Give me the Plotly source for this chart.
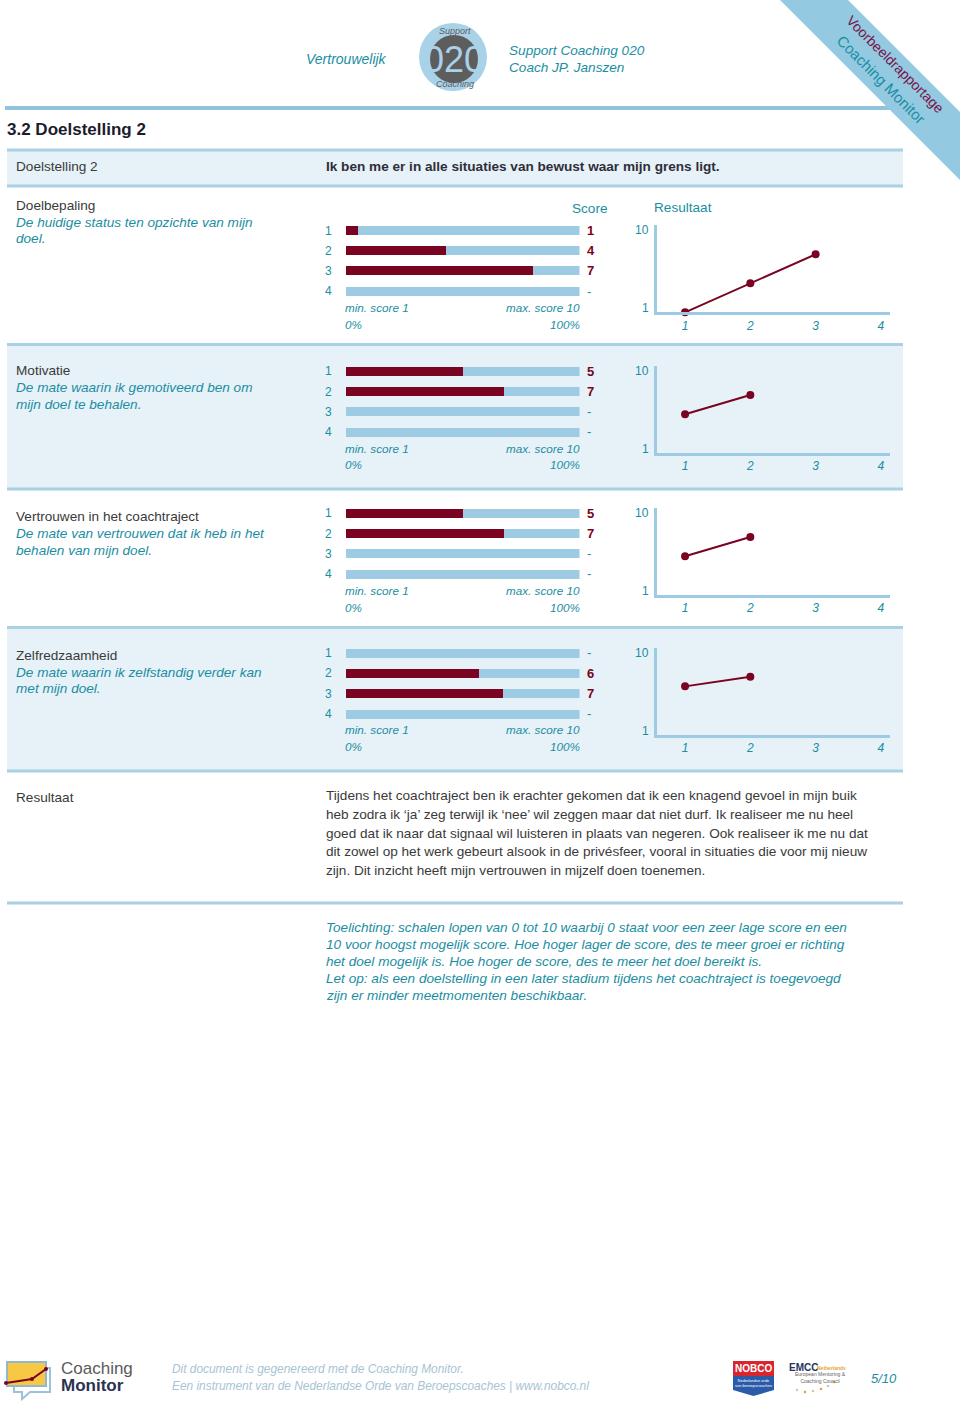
import plotly.graph_objects as go

# ------------------------------------------------------------------ data
metingen = [1, 2, 3, 4]                       # meetmomenten (rijen / x-as)
schaal_vol = [1.0, 1.0, 1.0, 1.0]             # 100% van de schaal
score_ticks = [1, 10]

onderdelen = ["Doelbepaling", "Motivatie", "Vertrouwen in het coachtraject", "Zelfredzaamheid"]
omschrijving_1 = ["De huidige status ten opzichte van mijn",
                  "De mate waarin ik gemotiveerd ben om",
                  "De mate van vertrouwen dat ik heb in het",
                  "De mate waarin ik zelfstandig verder kan"]
omschrijving_2 = ["doel.", "mijn doel te behalen.", "behalen van mijn doel.", "met mijn doel."]

scores_doelbepaling = [1, 4, 7, None]
scores_motivatie = [5, 7, None, None]
scores_vertrouwen = [5, 7, None, None]
scores_zelfredzaamheid = [None, 6, 7, None]

vulling_doelbepaling = [0.053, 0.429, 0.80, None]
vulling_motivatie = [0.50, 0.676, None, None]
vulling_vertrouwen = [0.50, 0.676, None, None]
vulling_zelfredzaamheid = [None, 0.571, 0.671, None]

alle_scores = [scores_doelbepaling, scores_motivatie, scores_vertrouwen, scores_zelfredzaamheid]
alle_vulling = [vulling_doelbepaling, vulling_motivatie, vulling_vertrouwen, vulling_zelfredzaamheid]

doelstelling = "Ik ben me er in alle situaties van bewust waar mijn grens ligt."
resultaat_tekst = [
    "Tijdens het coachtraject ben ik erachter gekomen dat ik een knagend gevoel in mijn buik",
    "heb zodra ik \u2018ja\u2019 zeg terwijl ik \u2018nee\u2019 wil zeggen maar dat niet durf. Ik realiseer me nu heel",
    "goed dat ik naar dat signaal wil luisteren in plaats van negeren. Ook realiseer ik me nu dat",
    "dit zowel op het werk gebeurt alsook in de priv\u00e9sfeer, vooral in situaties die voor mij nieuw",
    "zijn. Dit inzicht heeft mijn vertrouwen in mijzelf doen toenemen.",
]
toelichting = [
    "Toelichting: schalen lopen van 0 tot 10 waarbij 0 staat voor een zeer lage score en een",
    "10 voor hoogst mogelijk score. Hoe hoger lager de score, des te meer groei er richting",
    "het doel mogelijk is. Hoe hoger de score, des te meer het doel bereikt is.",
    "Let op: als een doelstelling in een later stadium tijdens het coachtraject is toegevoegd",
    "zijn er minder meetmomenten beschikbaar.",
]

# ------------------------------------------------------------------ style / layout
W, H = 960, 1404
FONT = "Liberation Sans, Arial, sans-serif"
TEAL = "#1b8ea2"
DARK = "#3a3a3a"
RED = "#7a0322"
LB = "#9ccbe3"
LINE = "#a9d0e4"
BG = "#e6f1f8"
FS = 13.6

rij1 = [230.3, 371.0, 513.0, 652.7]
rij_afstand = 20.3
titel_y = [205, 370, 516, 655]
tick_label_shift = {1: 4, 10: -5}   # vertical nudge of the y tick labels of the line charts


def X(x):
    return x / W


def Y(y):
    return 1 - y / H


ann = []
shapes = []


def txt(x, y, s, size=FS, color=DARK, anchor="left", angle=0, **kw):
    d = dict(x=X(x), y=Y(y), xref="paper", yref="paper", text=s, showarrow=False,
             xanchor=anchor, yanchor="middle", textangle=angle, borderpad=0, borderwidth=0,
             font=dict(size=size, color=color, family=FONT))
    d.update(kw)
    ann.append(d)


def hline(y, x0=7, x1=903, color=LINE, width=3):
    shapes.append(dict(type="line", xref="paper", yref="paper", x0=X(x0), x1=X(x1),
                       y0=Y(y), y1=Y(y), line=dict(color=color, width=width), layer="below"))


def rect(x0, y0, x1, y1, fill, line=None, lw=0, layer="below"):
    shapes.append(dict(type="rect", xref="paper", yref="paper", x0=X(x0), x1=X(x1),
                       y0=Y(y1), y1=Y(y0), fillcolor=fill,
                       line=dict(color=line or fill, width=lw), layer=layer))


def circle(cx, cy, r, fill, line=None, lw=0):
    shapes.append(dict(type="circle", xref="paper", yref="paper", x0=X(cx - r), x1=X(cx + r),
                       y0=Y(cy + r), y1=Y(cy - r), fillcolor=fill,
                       line=dict(color=line or fill, width=lw), layer="above"))


def path(pts, fill=None, color=None, width=0, closed=True, layer="above"):
    p = "M " + " L ".join(f"{X(a):.5f},{Y(b):.5f}" for a, b in pts) + (" Z" if closed else "")
    d = dict(type="path", xref="paper", yref="paper", path=p, layer=layer,
             line=dict(color=color or "rgba(0,0,0,0)", width=width))
    if fill:
        d["fillcolor"] = fill
    shapes.append(d)


# ------------------------------------------------------------------ header
txt(346, 59, "<i>Vertrouwelijk</i>", 14, TEAL, "center")
circle(453, 57, 34, "#a9d1e8")
circle(454, 59, 24, "#5d5d5d")
txt(454, 60, "020", 36, "#a9d1e8", "center")
txt(455, 31, "<i>Support</i>", 9, "#5d5d5d", "center")
txt(455, 84, "<i>Coaching</i>", 9, "#5d5d5d", "center")
txt(509, 50, "<i>Support Coaching 020</i>", FS, TEAL)
txt(509, 68, "<i>Coach JP. Janszen</i>", FS, TEAL)

hline(108, 5, 890, "#8fc4dc", 4)

# corner ribbon
path([(780, 0), (848, 0), (960, 112), (960, 180)], fill="#93c9e1", layer="above")
txt(895, 64, "Voorbeeldrapportage", 14, "#7a1448", "center", 45)
txt(881, 80, "Coaching Monitor", 15, TEAL, "center", 45)

txt(7, 130, "<b>3.2 Doelstelling 2</b>", 17, "#1c1c2c")

# header band
rect(7, 150, 903, 186, BG)
hline(150)
hline(186)
txt(16, 167, "Doelstelling 2", FS, DARK)
txt(326, 167, f"<b>{doelstelling}</b>", FS, "#2e2e3a")

# section backgrounds and separators
rect(7, 345, 903, 489, BG)
rect(7, 628, 903, 771, BG)
for yy in [344.5, 489, 627.5, 771, 903]:
    hline(yy)

# ------------------------------------------------------------------ sections
fig = go.Figure()
layout_axes = {}

for k in range(4):
    r1 = rij1[k]
    bi, li = 2 * k + 1, 2 * k + 2
    bx = "x" if bi == 1 else f"x{bi}"
    by = "y" if bi == 1 else f"y{bi}"
    lx, ly = f"x{li}", f"y{li}"
    bxk = "xaxis" if bi == 1 else f"xaxis{bi}"
    byk = "yaxis" if bi == 1 else f"yaxis{bi}"

    # texts left column
    txt(16, titel_y[k], onderdelen[k], FS, DARK)
    txt(16, titel_y[k] + 17, f"<i>{omschrijving_1[k]}</i>", FS, TEAL)
    txt(16, titel_y[k] + 34, f"<i>{omschrijving_2[k]}</i>", FS, TEAL)

    # bar block
    top = r1 - rij_afstand / 2
    bot = r1 + 3.5 * rij_afstand
    layout_axes[bxk] = dict(domain=[X(346), X(579.5)], range=[0, 1], visible=False,
                            fixedrange=True, anchor=by)
    layout_axes[byk] = dict(domain=[Y(bot), Y(top)], range=[4.5, 0.5], anchor=bx,
                            tickvals=metingen, ticktext=[str(m) for m in metingen],
                            tickfont=dict(size=12, color=TEAL, family=FONT),
                            ticks="outside", ticklen=11, tickcolor="rgba(0,0,0,0)",
                            showgrid=False, zeroline=False, showline=False, fixedrange=True)
    fig.add_trace(go.Bar(orientation="h", x=schaal_vol, y=metingen, width=0.44,
                         marker=dict(color=LB, line=dict(width=0)),
                         xaxis=bx, yaxis=by, hoverinfo="skip", showlegend=False))
    fig.add_trace(go.Bar(orientation="h", x=alle_vulling[k], y=metingen, width=0.44,
                         marker=dict(color=RED, line=dict(width=0)),
                         xaxis=bx, yaxis=by, showlegend=False))
    for m, s in zip(metingen, alle_scores[k]):
        if s is None:
            t, c = "-", TEAL
        else:
            t, c = f"<b>{s}</b>", RED
        ann.append(dict(x=1, y=m, xref=bx, yref=by, text=t, showarrow=False,
                        xanchor="left", yanchor="middle", xshift=7, borderpad=0, borderwidth=0,
                        font=dict(size=13, color=c, family=FONT)))

    txt(345, r1 + 77, "<i>min. score 1</i>", 11.7, TEAL)
    txt(580, r1 + 77, "<i>max. score 10</i>", 11.7, TEAL, "right")
    txt(345, r1 + 94, "<i>0%</i>", 11.7, TEAL)
    txt(580, r1 + 94, "<i>100%</i>", 11.7, TEAL, "right")

    # line chart
    ys = [s for s in alle_scores[k] if s is not None]
    xs = metingen[:len(ys)]
    layout_axes[f"xaxis{li}"] = dict(domain=[X(657), X(890)], range=[0.57, 4.14], anchor=ly,
                                     tickvals=metingen,
                                     ticktext=[f"<i>{m}</i>" for m in metingen],
                                     tickfont=dict(size=12, color=TEAL, family=FONT),
                                     ticks="", showline=True, linecolor=LB, linewidth=3,
                                     showgrid=False, zeroline=False, fixedrange=True)
    layout_axes[f"yaxis{li}"] = dict(domain=[Y(r1 + 82), Y(r1 - 5)], range=[1, 10], anchor=lx,
                                     tickvals=score_ticks, showticklabels=False, ticks="",
                                     showline=True, linecolor=LB, linewidth=3,
                                     showgrid=False, zeroline=False, fixedrange=True)
    for t in score_ticks:
        ann.append(dict(x=0, y=t, xref=f"{lx} domain", yref=ly, text=str(t), showarrow=False,
                        xanchor="right", yanchor="middle", xshift=-8,
                        yshift=tick_label_shift[t], borderpad=0, borderwidth=0,
                        font=dict(size=12, color=TEAL, family=FONT)))
    fig.add_trace(go.Scatter(x=xs, y=ys, mode="lines+markers", xaxis=lx, yaxis=ly,
                             line=dict(color=RED, width=2), marker=dict(color=RED, size=8),
                             cliponaxis=False, showlegend=False))

# section-1 column headers
txt(590, 208, "Score", FS, TEAL, "center")
txt(683, 207, "Resultaat", FS, TEAL, "center")

# ------------------------------------------------------------------ result + explanation
txt(16, 797, "Resultaat", FS, DARK)
for i, line in enumerate(resultaat_tekst):
    txt(326, 796 + 18.5 * i, line, FS, DARK)
for i, line in enumerate(toelichting):
    txt(326, 927 + 17 * i, f"<i>{line}</i>", FS, TEAL)

# ------------------------------------------------------------------ footer
# Coaching Monitor icon
path([(14, 1368), (50, 1368), (50, 1392), (30, 1392), (22, 1399), (22, 1392), (14, 1392)],
     fill="white", color="#9cc3d8", width=2)
rect(7, 1362, 46, 1386, "#f6c843", "#8fb9d2", 2, layer="above")
path([(6, 1383), (32, 1379), (46, 1369)], color=RED, width=2, closed=False)
circle(6, 1383, 2, RED)
circle(32, 1379, 2, RED)
circle(46, 1369, 2, RED)
txt(61, 1368, "Coaching", 17, "#5a5a5a")
txt(61, 1385, "<b>Monitor</b>", 17, "#2b3150")

txt(172, 1369, "<i>Dit document is gegenereerd met de Coaching Monitor.</i>", 11.9, "#a7c4d4")
txt(172, 1386, "<i>Een instrument van de Nederlandse Orde van Beroepscoaches | www.nobco.nl</i>",
    11.9, "#a7c4d4")

# NOBCO badge
rect(733, 1361, 774, 1376, "#d8262e", layer="above")
path([(733, 1376), (774, 1376), (774, 1390), (753.5, 1396), (733, 1390)], fill="#2a5ba8")
txt(753.5, 1368.5, "<b>NOBCO</b>", 10, "white", "center")
txt(753.5, 1383, "Nederlandse orde<br>van beroepscoaches", 4, "white", "center")

# EMCC
txt(789, 1367, "<b>EMCC</b>", 10, "#24305e")
txt(817, 1367.5, "<b>Netherlands</b>", 5, "#e7a23a")
txt(795, 1377, "European Mentoring &<br>Coaching Council", 5, "#666666")
for (cx, cy, c) in [(797, 1390, "#c8c8c8"), (805, 1392, "#e7a23a"), (813, 1391, "#c8c8c8"),
                    (821, 1389, "#e7a23a"), (828, 1386, "#c8c8c8"), (834, 1382, "#e7a23a")]:
    circle(cx, cy, 1.3, c)

txt(884, 1378, "<i>5/10</i>", 13, TEAL, "center")

fig.update_layout(width=W, height=H, margin=dict(l=0, r=0, t=0, b=0, autoexpand=False),
                  autosize=False,
                  paper_bgcolor="white", plot_bgcolor="rgba(0,0,0,0)",
                  barmode="overlay", bargap=0, showlegend=False,
                  annotations=ann, shapes=shapes, font=dict(family=FONT),
                  **layout_axes)

fig.write_html("out.html", config={"responsive": False, "displayModeBar": False},
               post_script="document.body.style.margin='0';"
                           "document.body.style.overflow='hidden';")
